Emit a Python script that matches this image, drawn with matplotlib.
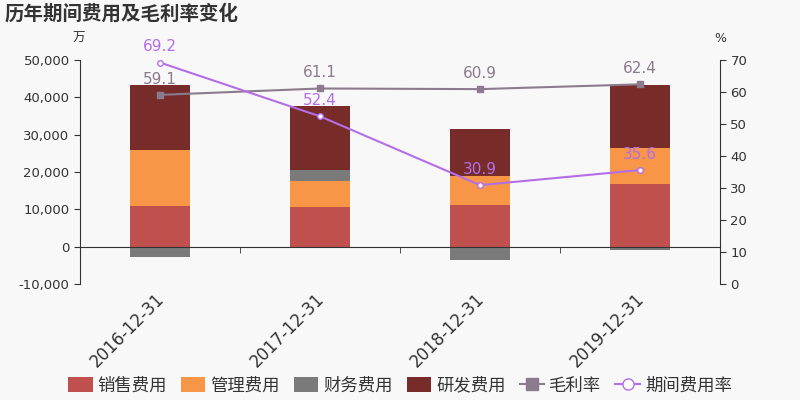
import matplotlib
matplotlib.use("Agg")
import matplotlib.pyplot as plt
import matplotlib.transforms as mtransforms
import numpy as np
from matplotlib.ticker import FuncFormatter, FixedLocator
from matplotlib.patches import Patch
from matplotlib.lines import Line2D

plt.rcParams['font.family'] = ['DejaVu Sans', 'Noto Sans CJK SC']

categories = ['2016-12-31', '2017-12-31', '2018-12-31', '2019-12-31']
sales = [10800, 10500, 11200, 16700]
manage = [15100, 7200, 7800, 9800]
finance = [-2900, 2900, -3700, -800]
rd = [17400, 17200, 12600, 16800]
gross_margin = [59.1, 61.1, 60.9, 62.4]
period_rate = [69.2, 52.4, 30.9, 35.6]

series_names = ['销售费用', '管理费用', '财务费用', '研发费用']
colors = ['#c0504d', '#f79646', '#7a7a7a', '#772c2a']
gm_color = '#8c7b8c'
pr_color = '#b36ee8'
bg = '#f8f8f8'

fig = plt.figure(figsize=(8, 4), dpi=100, facecolor=bg)
ax = fig.add_axes([0.1, 0.29, 0.8, 0.56], facecolor=bg)
x = np.arange(len(categories))
w = 0.375

pos_bottom = np.zeros(len(categories))
neg_bottom = np.zeros(len(categories))
for vals, col in zip([sales, manage, finance, rd], colors):
    vals = np.array(vals, dtype=float)
    bottoms = np.where(vals >= 0, pos_bottom, neg_bottom)
    ax.bar(x, vals, w, bottom=bottoms, color=col, linewidth=0, zorder=2)
    pos_bottom = pos_bottom + np.where(vals >= 0, vals, 0)
    neg_bottom = neg_bottom + np.where(vals < 0, vals, 0)

ax.set_xlim(-0.5, len(categories) - 0.5)
ax.set_ylim(-10000, 50000)
ax.set_yticks(np.arange(-10000, 50001, 10000))
ax.yaxis.set_major_formatter(FuncFormatter(lambda v, p: f"{v:,.0f}".replace('\u2212', '-')))
ax.spines['top'].set_visible(False)
ax.spines['right'].set_visible(False)
ax.spines['bottom'].set_position(('data', 0))
for s in ['left', 'bottom']:
    ax.spines[s].set_color('#333333')
ax.set_xticks(x)
ax.set_xticklabels(categories, rotation=45, ha='right', rotation_mode='anchor', fontsize=12, color='#333333')
ax.tick_params(axis='x', which='major', length=0, pad=31)
offset = mtransforms.ScaledTranslation(-5 / 100, 0, fig.dpi_scale_trans)
for lab in ax.get_xticklabels():
    lab.set_transform(lab.get_transform() + offset)
ax.xaxis.set_minor_locator(FixedLocator(x[:-1] + 0.5))
ax.tick_params(axis='x', which='minor', length=4, color='#333333', direction='out')
ax.tick_params(axis='y', colors='#333333', labelsize=9.5, length=4, color='#333333')

ax2 = ax.twinx()
ax2.set_ylim(0, 70)
ax2.set_yticks(np.arange(0, 71, 10))
ax2.spines['top'].set_visible(False)
ax2.spines['left'].set_visible(False)
ax2.spines['bottom'].set_visible(False)
ax2.spines['right'].set_color('#333333')
ax2.tick_params(axis='y', colors='#333333', labelsize=9.5, length=4, color='#333333')

ax2.plot(x, gross_margin, color=gm_color, marker='s', markersize=4, linewidth=1.5, zorder=3)
ax2.plot(x, period_rate, color=pr_color, marker='o', markersize=4, markerfacecolor='white',
         markeredgecolor=pr_color, linewidth=1.5, zorder=3)
for xi, v in zip(x, gross_margin):
    ax2.annotate(f"{v:.1f}", (xi, v), xytext=(0, 6), textcoords='offset points', ha='center',
                 va='bottom', color=gm_color, fontsize=11)
for xi, v in zip(x, period_rate):
    ax2.annotate(f"{v:.1f}", (xi, v), xytext=(0, 6), textcoords='offset points', ha='center',
                 va='bottom', color=pr_color, fontsize=11)

fig.text(0.006, 0.965, '历年期间费用及毛利率变化', fontsize=14, fontweight='bold', color='#333333',
         family=['Noto Sans CJK SC'], va='center', ha='left')
fig.text(0.098, 0.903, '万', fontsize=9, color='#333333', ha='center', va='center', family=['Noto Sans CJK SC'])
fig.text(0.9, 0.903, '%', fontsize=9, color='#333333', ha='center', va='center')

handles = [Patch(facecolor=c, edgecolor='none') for c in colors]
handles.append(Line2D([0], [0], color=gm_color, marker='s', markersize=8, linewidth=1.5))
handles.append(Line2D([0], [0], color=pr_color, marker='o', markersize=8, markerfacecolor='white', linewidth=1.5))
labels = series_names + ['毛利率', '期间费用率']
fig.legend(handles, labels, loc='center', bbox_to_anchor=(0.5, 0.036), ncol=6, frameon=False,
           prop={'family': ['Noto Sans CJK SC'], 'size': 12.5}, handlelength=1.4, handleheight=1.0,
           handletextpad=0.3, columnspacing=0.8, labelcolor='#333333')

fig.savefig('out.png', dpi=100, facecolor=bg)
